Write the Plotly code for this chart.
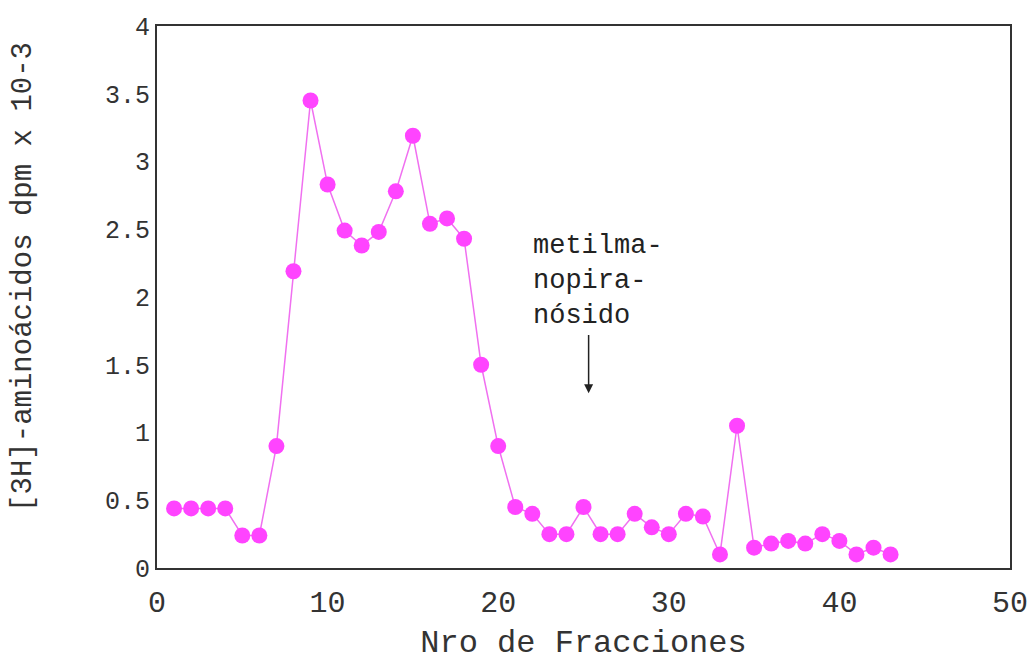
import plotly.graph_objects as go

fractions = list(range(1, 44))
dpm = [0.44, 0.44, 0.44, 0.44, 0.24, 0.24, 0.90, 2.19, 3.45, 2.83,
       2.49, 2.38, 2.48, 2.78, 3.19, 2.54, 2.58, 2.43, 1.50, 0.90,
       0.45, 0.40, 0.25, 0.25, 0.45, 0.25, 0.25, 0.40, 0.30, 0.25,
       0.40, 0.38, 0.10, 1.05, 0.15, 0.18, 0.20, 0.18, 0.25, 0.20,
       0.10, 0.15, 0.10]

x_ticks = [0, 10, 20, 30, 40, 50]
y_ticks = [0, 0.5, 1, 1.5, 2, 2.5, 3, 3.5, 4]
y_tick_text = ["0", "0.5", "1", "1.5", "2", "2.5", "3", "3.5", "4"]

FONT = "Courier New, Liberation Mono, monospace"

fig = go.Figure()
fig.add_trace(go.Scatter(
    x=fractions, y=dpm, mode="lines+markers",
    line=dict(color="#f070f0", width=1.5),
    marker=dict(color="#ff44ff", size=16, line=dict(width=0)),
    showlegend=False,
))

fig.add_annotation(
    x=25.3, y=1.29, ax=25.3, ay=1.73, xref="x", yref="y", axref="x", ayref="y",
    showarrow=True, arrowhead=2, arrowsize=1.2, arrowwidth=1.5, arrowcolor="#222",
    text="",
)
fig.add_annotation(
    x=21.9, y=2.12, xref="x", yref="y", xanchor="left", yanchor="middle",
    showarrow=False, align="left",
    text="metilma-<br>nopira-<br>nósido",
    font=dict(family=FONT, size=27, color="#222"),
)
fig.add_annotation(
    x=-0.156, y=0.537, xref="paper", yref="paper", xanchor="center", yanchor="middle",
    showarrow=False, textangle=-90,
    text="[3H]-aminoácidos dpm x 10-3",
    font=dict(family=FONT, size=29, color="#333"),
)

fig.update_layout(
    width=1033, height=662,
    margin=dict(l=157, r=23, t=26, b=94, autoexpand=False),
    paper_bgcolor="white", plot_bgcolor="white",
    font=dict(family=FONT, color="#222"),
)
fig.update_xaxes(
    range=[0, 50], tickvals=x_ticks, ticks="", showgrid=False, zeroline=False,
    showline=True, linecolor="#333", linewidth=2, mirror=True, automargin=False,
    tickfont=dict(family=FONT, size=30, color="#333"), ticklabelstandoff=6,
    title=dict(text="Nro de Fracciones", font=dict(family=FONT, size=32, color="#333"), standoff=14),
)
fig.update_yaxes(
    range=[0, 4], tickvals=y_ticks, ticktext=y_tick_text, ticks="", showgrid=False, zeroline=False,
    showline=True, linecolor="#333", linewidth=2, mirror=True, automargin=False,
    tickfont=dict(family=FONT, size=25, color="#333"),
)

fig.write_html("out.html")
